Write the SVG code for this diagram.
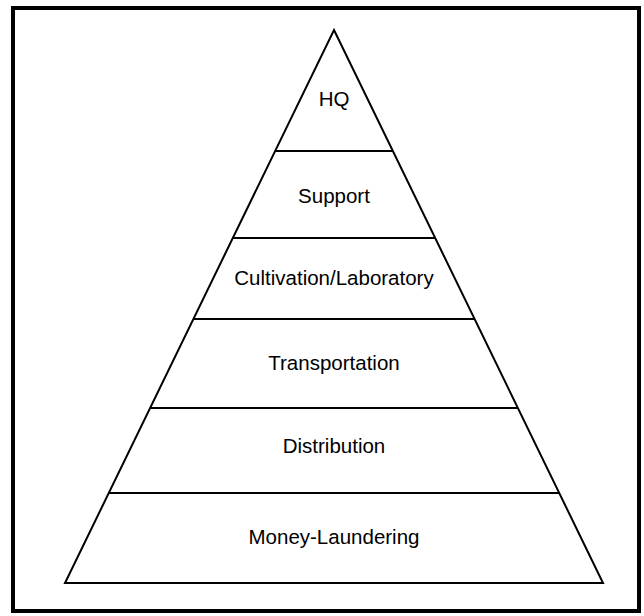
<svg xmlns="http://www.w3.org/2000/svg" width="644" height="616" viewBox="0 0 644 616">
<style>
.frame{fill:none;stroke:#000;stroke-width:4}
.tri{fill:#fff;stroke:#000;stroke-width:2;stroke-linejoin:miter}
.div{stroke:#000;stroke-width:2}
.lbl{font-family:"Liberation Sans",Arial,sans-serif;font-size:20.5px;fill:#000;text-anchor:middle}
</style>
<rect x="0" y="0" width="644" height="616" fill="#fff"/>
<rect class="frame" x="13" y="8" width="626" height="603"/>
<g id="pyramid">
<polygon class="tri" points="334,30 603,583 65,583"/>
</g>
<g id="connectors">
<line class="div" x1="275.1" y1="151" x2="392.9" y2="151"/>
<line class="div" x1="232.8" y1="238" x2="435.2" y2="238"/>
<line class="div" x1="193.4" y1="319" x2="474.6" y2="319"/>
<line class="div" x1="150.1" y1="408" x2="517.9" y2="408"/>
<line class="div" x1="108.7" y1="493" x2="559.3" y2="493"/>
</g>
<g id="hq"><text class="lbl" x="334" y="106">HQ</text></g>
<g id="support"><text class="lbl" x="334" y="203">Support</text></g>
<g id="cultivation"><text class="lbl" x="334" y="285">Cultivation/Laboratory</text></g>
<g id="transportation"><text class="lbl" x="334" y="370">Transportation</text></g>
<g id="distribution"><text class="lbl" x="334" y="453">Distribution</text></g>
<g id="money"><text class="lbl" x="334" y="544">Money-Laundering</text></g>
</svg>
